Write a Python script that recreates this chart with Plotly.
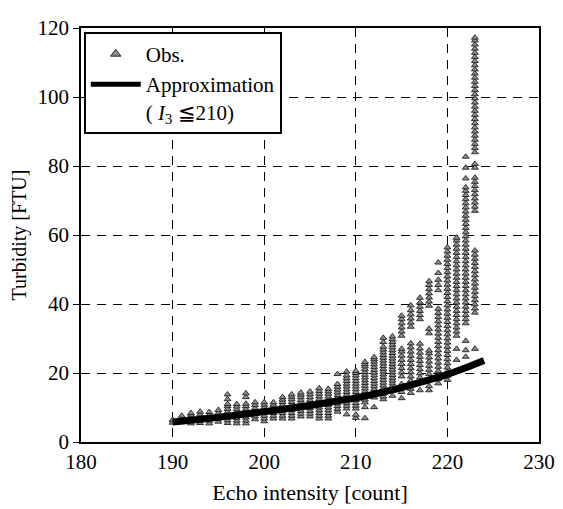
import plotly.graph_objects as go

# ---- data ----
echo_counts = [190, 191, 192, 193, 194, 195, 196, 197, 198, 199,
               200, 201, 202, 203, 204, 205, 206, 207, 208, 209,
               210, 211, 212, 213, 214, 215, 216, 217, 218, 219,
               220, 221, 222, 223]

obs_turbidity = [
    [5.6, 6.4],
    [6.1, 7.0, 7.6],
    [5.4, 6.3, 7.1, 7.9, 8.4],
    [5.5, 6.3, 7.1, 8.0, 8.8],
    [5.4, 6.2, 7.0, 7.8, 8.7],
    [5.9, 6.7, 7.6, 8.4, 9.3],
    [5.5, 6.3, 7.1, 7.9, 8.8, 9.6, 10.4, 11.0, 12.4, 13.8],
    [5.4, 6.2, 7.0, 7.9, 8.7, 9.5, 10.3, 11.0],
    [5.4, 6.2, 7.1, 7.9, 8.8, 9.6, 10.4, 11.1, 13.0, 14.1],
    [6.6, 7.4, 8.2, 9.0, 9.8, 10.7, 11.5],
    [6.0, 6.8, 7.6, 8.4, 9.2, 10.0, 10.8, 11.5],
    [6.8, 7.6, 8.4, 9.2, 10.0, 10.8, 11.5],
    [6.8, 7.6, 8.4, 9.2, 10.0, 10.8, 11.6, 12.3, 13.0],
    [6.8, 7.6, 8.4, 9.2, 10.0, 10.8, 11.6, 12.4, 13.1, 13.8],
    [7.4, 8.2, 9.0, 9.8, 10.6, 11.4, 12.2, 13.0, 13.7, 14.3],
    [7.4, 8.2, 9.0, 9.8, 10.6, 11.4, 12.2, 13.0, 13.8, 14.6],
    [6.8, 7.6, 8.4, 9.2, 10.0, 10.8, 11.6, 12.4, 13.2, 14.0, 14.8, 15.6],
    [6.8, 7.6, 8.4, 9.2, 10.0, 10.8, 11.6, 12.4, 13.2, 14.0, 14.7, 15.4],
    [8.8, 9.6, 10.4, 11.2, 12.0, 12.8, 13.6, 14.4, 15.2, 16.0, 16.8, 19.7],
    [8.0, 9.7, 10.5, 11.3, 12.1, 12.9, 13.7, 14.5, 15.3, 16.1, 16.9, 17.7,
     18.5, 19.3, 20.4],
    [7.0, 7.9, 9.7, 10.5, 11.3, 12.1, 12.9, 13.7, 14.5, 15.3, 16.1, 16.9,
     17.7, 18.5, 19.3, 20.0, 20.6],
    [6.9, 10.1, 11.5, 12.3, 13.1, 13.9, 14.7, 15.5, 16.3, 17.1, 17.9, 18.7,
     19.5, 20.3, 21.1, 21.9, 22.6, 23.2],
    [10.1, 12.9, 13.7, 14.5, 15.3, 16.1, 16.9, 17.7, 18.5, 19.3, 20.1, 20.9,
     21.7, 22.5, 23.3, 24.0, 24.6],
    [12.4, 13.2, 14.0, 14.8, 15.6, 16.4, 17.2, 18.0, 18.8, 19.6, 20.4, 21.2,
     22.0, 22.8, 23.6, 24.4, 25.2, 26.0, 26.8, 27.6, 29.0, 30.2],
    [13.4, 16.2, 17.0, 17.8, 18.6, 19.4, 20.2, 21.0, 21.8, 22.6, 23.4, 24.2,
     25.0, 25.8, 26.6, 27.4, 28.2, 29.0, 29.8, 30.6],
    [12.7, 14.5, 15.6, 16.8, 19.0, 20.2, 21.4, 22.6, 23.8, 25.0, 26.2, 27.0,
     30.8, 32.0, 33.2, 34.4, 35.6, 36.6],
    [14.2, 15.4, 16.6, 17.8, 19.0, 20.2, 21.4, 22.6, 23.8, 25.0, 26.2, 27.4,
     28.6, 33.4, 34.6, 35.8, 37.0, 38.2, 39.6],
    [15.0, 17.5, 18.7, 19.9, 21.1, 22.3, 23.5, 24.7, 25.9, 27.1, 28.5, 35.6,
     36.8, 38.0, 39.2, 40.4, 41.8],
    [15.0, 16.2, 19.7, 20.9, 22.1, 23.3, 24.5, 25.7, 26.5, 31.5, 32.8, 39.5,
     40.7, 41.9, 43.1, 44.3, 45.5, 46.6],
    [17.0, 18.2, 19.4, 20.6, 21.8, 23.0, 24.2, 25.4, 26.6, 27.8, 29.0, 30.2,
     31.4, 32.6, 33.8, 35.0, 36.2, 37.4, 38.6, 44.0, 45.5, 47.0, 49.0, 52.0],
    [18.0, 19.2, 20.4, 21.6, 22.8, 24.0, 25.2, 26.4, 27.6, 28.8, 30.0, 31.2,
     32.4, 33.6, 34.8, 36.0, 37.2, 38.4, 39.6, 40.8, 42.0, 43.2, 44.4, 45.6,
     46.8, 48.0, 49.2, 50.4, 51.6, 52.8, 54.0, 55.2, 56.4],
    [23.8, 27.0, 30.8, 32.0, 33.2, 34.4, 35.6, 36.8, 38.0, 39.2, 40.4, 41.6,
     42.8, 44.0, 45.2, 46.4, 47.6, 48.8, 50.0, 51.2, 52.4, 53.6, 54.8, 56.0,
     57.2, 58.4, 59.2],
    [24.7, 26.6, 29.3, 34.4, 35.6, 36.8, 38.0, 39.2, 40.4, 41.6, 42.8, 44.0,
     45.2, 46.4, 47.6, 48.8, 50.0, 51.2, 52.4, 53.6, 54.8, 56.0, 57.2, 58.4,
     59.6, 60.8, 62.0, 63.2, 64.4, 65.6, 66.8, 68.0, 69.2, 70.4, 71.6, 72.8,
     73.8, 76.4, 79.5, 82.7],
    [27.0, 37.5, 38.7, 39.9, 41.1, 42.3, 43.5, 44.7, 45.9, 47.1, 48.3, 49.5,
     50.7, 51.9, 53.1, 54.3, 55.5, 67.0, 68.2, 69.4, 70.6, 71.8, 73.0, 74.2,
     75.4, 76.6, 79.5, 80.6, 84.0, 85.2, 86.4, 87.6, 88.8, 90.0, 91.2, 92.4,
     93.6, 94.8, 96.0, 97.2, 98.4, 99.6, 100.8, 102.0, 103.2, 104.4, 105.6,
     106.8, 108.0, 109.2, 110.4, 111.6, 112.8, 114.0, 115.2, 116.4, 117.2],
]

approx_x = [190, 192, 194, 196, 198, 200, 202, 204, 206, 208, 210, 212,
            214, 216, 218, 220, 222, 224]
approx_y = [5.8, 6.3, 6.9, 7.5, 8.1, 8.8, 9.5, 10.2, 11.0, 11.9, 12.8, 13.9,
            15.1, 16.5, 18.0, 19.6, 21.5, 23.6]

x_ticks = [180, 190, 200, 210, 220, 230]
y_ticks = [0, 20, 40, 60, 80, 100, 120]

# ---- build ----
obs_x, obs_y = [], []
for cnt, vals in zip(echo_counts, obs_turbidity):
    for v in vals:
        obs_x.append(cnt)
        obs_y.append(v)

FONT = "Liberation Serif, Times New Roman, serif"

fig = go.Figure()
fig.add_trace(go.Scatter(
    x=obs_x, y=obs_y, mode="markers", showlegend=False,
    marker=dict(symbol="triangle-up", size=6, color="#8c8c8c",
                line=dict(color="#222222", width=0.9)),
))
fig.add_trace(go.Scatter(
    x=approx_x, y=approx_y, mode="lines", showlegend=False,
    line=dict(color="black", width=7, shape="spline"),
))
# legend entries
fig.add_trace(go.Scatter(
    x=[None], y=[None], mode="markers", name="Obs.",
    marker=dict(symbol="triangle-up", size=9, color="#8c8c8c",
                line=dict(color="#222222", width=1)),
))
fig.add_trace(go.Scatter(
    x=[None], y=[None], mode="lines",
    name="Approximation<br>( <i>I</i><sub>3</sub> ≦210)",
    line=dict(color="black", width=5),
))

axis_common = dict(
    showline=True, linecolor="black", linewidth=1.5, mirror=True,
    showgrid=True, gridcolor="black", gridwidth=1, griddash="9px,7px",
    zeroline=False, ticklabeloverflow="allow",
    tickfont=dict(family=FONT, size=21, color="black"),
)

# the page body adds an 8px offset, so the figure is 8px smaller
fig.update_layout(
    width=555, height=501,
    margin=dict(l=69, r=17, t=8, b=54),
    paper_bgcolor="white", plot_bgcolor="white",
    font=dict(family=FONT, size=21, color="black"),
    xaxis=dict(range=[180, 230], tickvals=x_ticks, ticks="",
               title=dict(text="Echo intensity [count]", standoff=12,
                          font=dict(family=FONT, size=22)),
               **axis_common),
    yaxis=dict(range=[0, 120], tickvals=y_ticks, ticks="outside",
               ticklen=6, tickcolor="black", tickwidth=1.2,
               title=dict(text="Turbidity [FTU]", standoff=8,
                          font=dict(family=FONT, size=20)),
               **axis_common),
    legend=dict(x=0.006, y=0.991, xanchor="left", yanchor="top",
                bgcolor="white", bordercolor="black", borderwidth=2,
                font=dict(family=FONT, size=21, color="black"),
                valign="top", tracegroupgap=0, itemwidth=50),
)

fig.write_html("out.html")
